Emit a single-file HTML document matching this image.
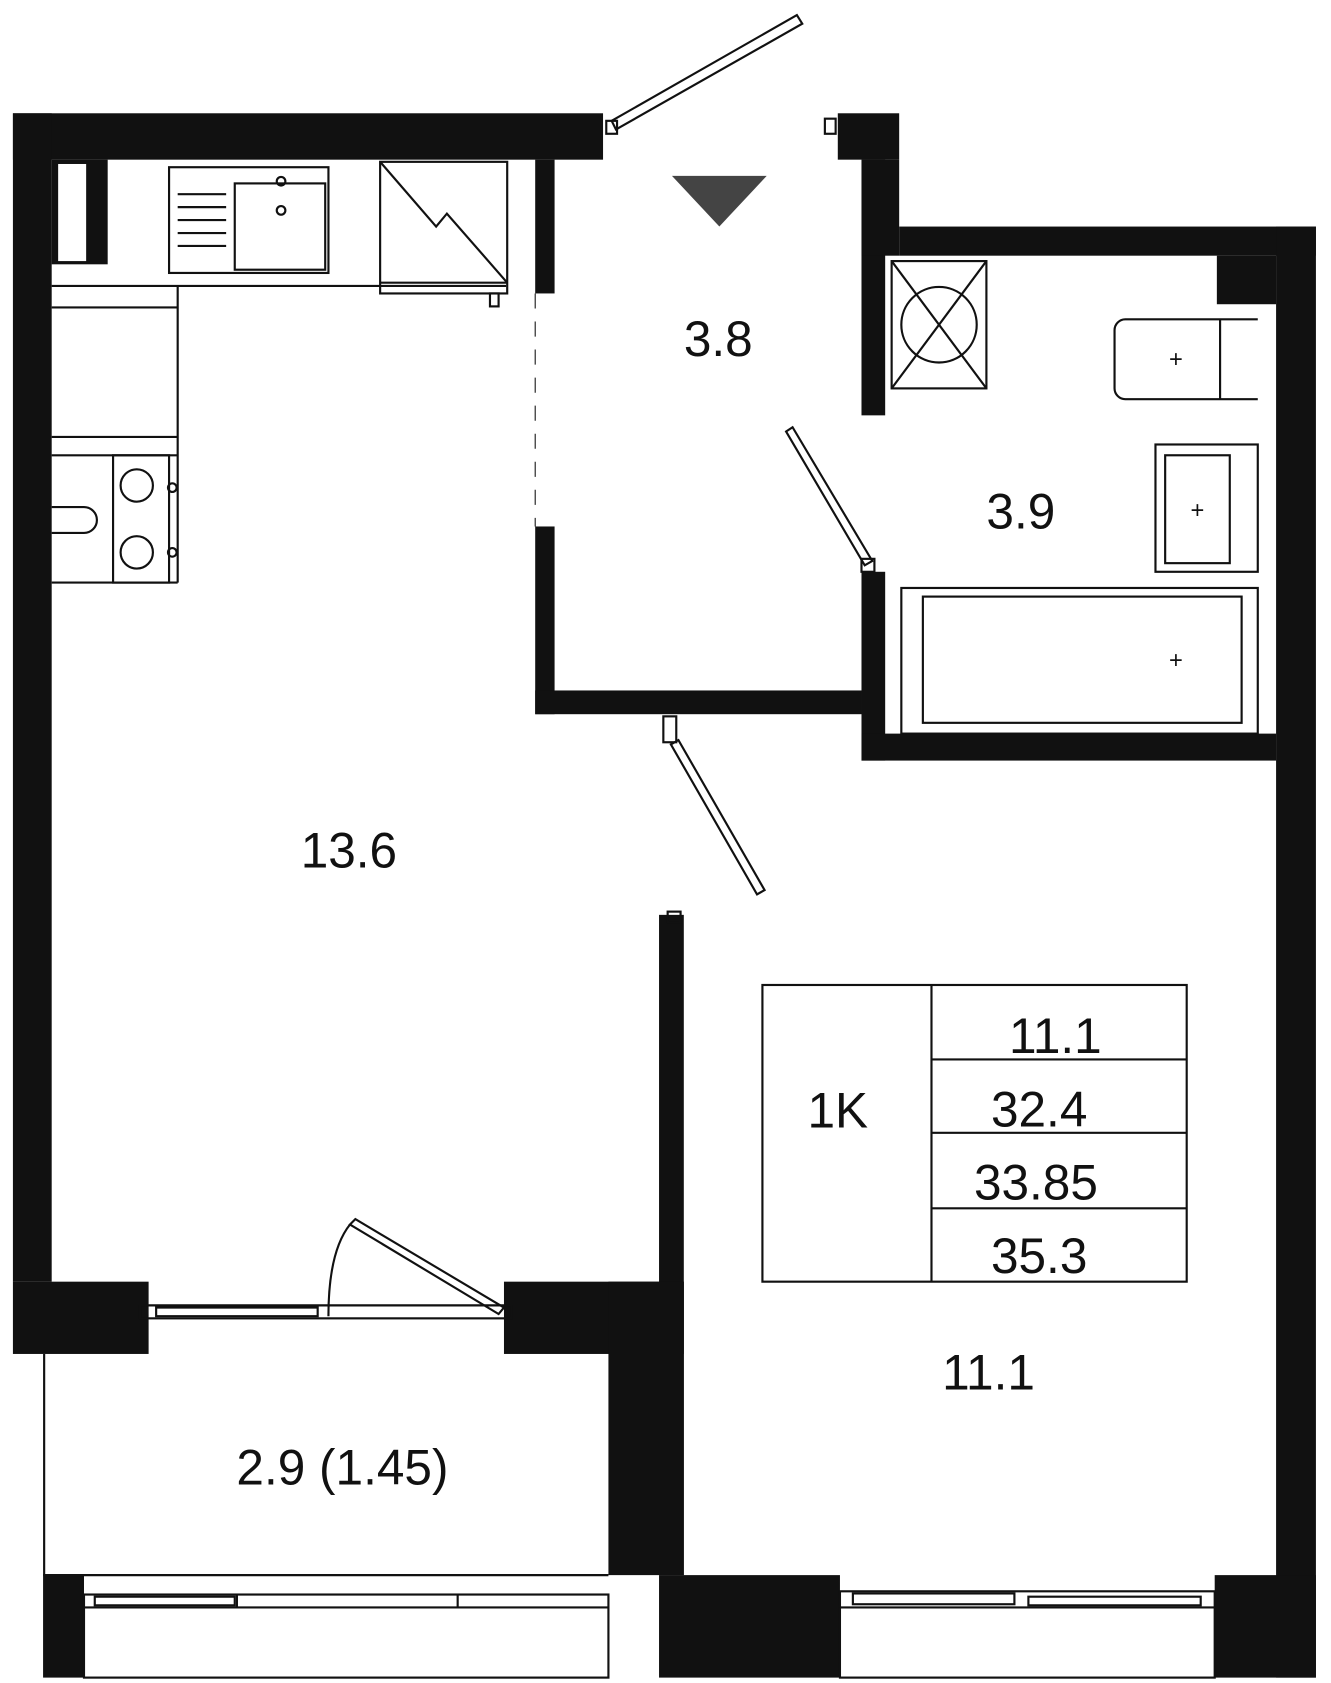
<!DOCTYPE html>
<html><head><meta charset="utf-8"><style>
html,body{margin:0;padding:0;background:#fff;}
svg{display:block;}
text{font-family:"Liberation Sans",sans-serif;fill:#111;}
</style></head><body>
<svg width="1331" height="1683" viewBox="0 0 1236 1560" preserveAspectRatio="none" xmlns="http://www.w3.org/2000/svg">
<g fill="#111">
<rect x="12" y="105" width="548" height="43"/>
<rect x="12" y="105" width="36" height="1083"/>
<rect x="48" y="148" width="52" height="97"/>
<rect x="497" y="148" width="18" height="124"/>
<rect x="497" y="488" width="18" height="174"/>
<rect x="497" y="640" width="303" height="22"/>
<rect x="778" y="105" width="57" height="43"/>
<rect x="800" y="148" width="22" height="237"/>
<rect x="800" y="148" width="35" height="89"/>
<rect x="835" y="210" width="387" height="27"/>
<rect x="1185" y="210" width="37" height="1345"/>
<rect x="1130" y="237" width="55" height="45"/>
<rect x="800" y="530" width="22" height="175"/>
<rect x="800" y="680" width="385" height="25"/>
<rect x="612" y="848" width="23" height="612"/>
<rect x="612" y="1460" width="168" height="95"/>
<rect x="1128" y="1460" width="94" height="95"/>
<rect x="12" y="1188" width="126" height="67"/>
<rect x="468" y="1188" width="167" height="67"/>
<rect x="565" y="1188" width="70" height="272"/>
<rect x="40" y="1460" width="38" height="95"/>
</g>
<rect x="54" y="152" width="26" height="90" fill="#fff"/>
<g fill="none" stroke="#111" stroke-width="2">
<line x1="41" y1="1255" x2="41" y2="1460"/>
<line x1="48" y1="265" x2="470" y2="265"/>
<line x1="48" y1="285" x2="165" y2="285"/>
<line x1="165" y1="265" x2="165" y2="540"/>
<line x1="48" y1="405" x2="165" y2="405"/>
<line x1="48" y1="422" x2="165" y2="422"/>
<line x1="48" y1="540" x2="165" y2="540"/>
<rect x="105" y="422" width="52" height="118"/>
<circle cx="127" cy="450" r="15"/><circle cx="127" cy="512" r="15"/>
<circle cx="160" cy="452" r="4"/><circle cx="160" cy="512" r="4"/>
<path d="M48 470 h30 a12 12 0 0 1 0 24 h-30"/>
<rect x="157" y="155" width="148" height="98"/>
<rect x="218" y="170" width="84" height="80"/>
<circle cx="261" cy="168" r="4"/><circle cx="261" cy="195" r="4"/>
<line x1="165" y1="180" x2="210" y2="180"/><line x1="165" y1="192" x2="210" y2="192"/><line x1="165" y1="204" x2="210" y2="204"/><line x1="165" y1="216" x2="210" y2="216"/><line x1="165" y1="228" x2="210" y2="228"/>
<rect x="353" y="150" width="118" height="122"/>
<path d="M353 150 L405 210 L415 198 L471 262"/>
<line x1="353" y1="262" x2="471" y2="262"/>
<rect x="455" y="272" width="8" height="12"/>
<line x1="497" y1="272" x2="497" y2="488" stroke-dasharray="14 12" stroke-width="1"/>
<polygon points="568,112 740,14 745,22 572,120"/>
<rect x="563" y="112" width="10" height="12"/>
<rect x="766" y="110" width="10" height="14"/>
<polygon points="730,400 736,396 810,520 803,524"/>
<rect x="800" y="518" width="12" height="12"/>
<polygon points="623,690 630,686 710,825 703,829"/>
<rect x="616" y="664" width="12" height="24"/>
<rect x="620" y="845" width="12" height="10"/>
<rect x="828" y="242" width="88" height="118"/>
<line x1="828" y1="242" x2="916" y2="360"/><line x1="916" y1="242" x2="828" y2="360"/>
<circle cx="872" cy="301" r="35"/>
<path d="M1168 296 H1045 a10 10 0 0 0 -10 10 V360 a10 10 0 0 0 10 10 H1168"/>
<line x1="1133" y1="296" x2="1133" y2="370"/>
<rect x="1073" y="412" width="95" height="118"/>
<rect x="1082" y="422" width="60" height="100"/>
<rect x="837" y="545" width="331" height="135"/>
<rect x="857" y="553" width="296" height="117"/>
<line x1="138" y1="1210" x2="468" y2="1210"/>
<rect x="130" y="1210" width="345" height="12"/>
<rect x="145" y="1212" width="150" height="8"/>
<polygon points="325,1135 330,1130 468,1212 463,1218"/>
<path d="M305 1220 Q305 1160 325 1135"/>
<line x1="40" y1="1460" x2="565" y2="1460"/>
<rect x="78" y="1478" width="487" height="77"/>
<line x1="78" y1="1490" x2="565" y2="1490"/>
<line x1="220" y1="1478" x2="220" y2="1490"/><line x1="425" y1="1478" x2="425" y2="1490"/>
<rect x="88" y="1480" width="130" height="8"/>
<rect x="780" y="1475" width="348" height="80"/>
<line x1="780" y1="1490" x2="1128" y2="1490"/>
<rect x="792" y="1477" width="150" height="10"/>
<rect x="955" y="1480" width="160" height="8"/>
<rect x="708" y="913" width="394" height="275"/>
<line x1="865" y1="913" x2="865" y2="1188"/>
<line x1="865" y1="982" x2="1102" y2="982"/>
<line x1="865" y1="1050" x2="1102" y2="1050"/>
<line x1="865" y1="1120" x2="1102" y2="1120"/>
</g>
<polygon points="624,163 712,163 668,210" fill="#444"/>
<g font-size="22" text-anchor="middle"><text x="1092" y="340">+</text><text x="1112" y="480">+</text><text x="1092" y="619">+</text></g>
<g font-size="46" text-anchor="middle">
<text x="667" y="330">3.8</text>
<text x="948" y="490">3.9</text>
<text x="324" y="804">13.6</text>
<text x="918" y="1288">11.1</text>
<text x="318" y="1376">2.9 (1.45)</text>
<text x="778" y="1045">1K</text>
<text x="980" y="976">11.1</text>
<text x="965" y="1044">32.4</text>
<text x="962" y="1112">33.85</text>
<text x="965" y="1180">35.3</text>
</g>
</svg>
</body></html>
